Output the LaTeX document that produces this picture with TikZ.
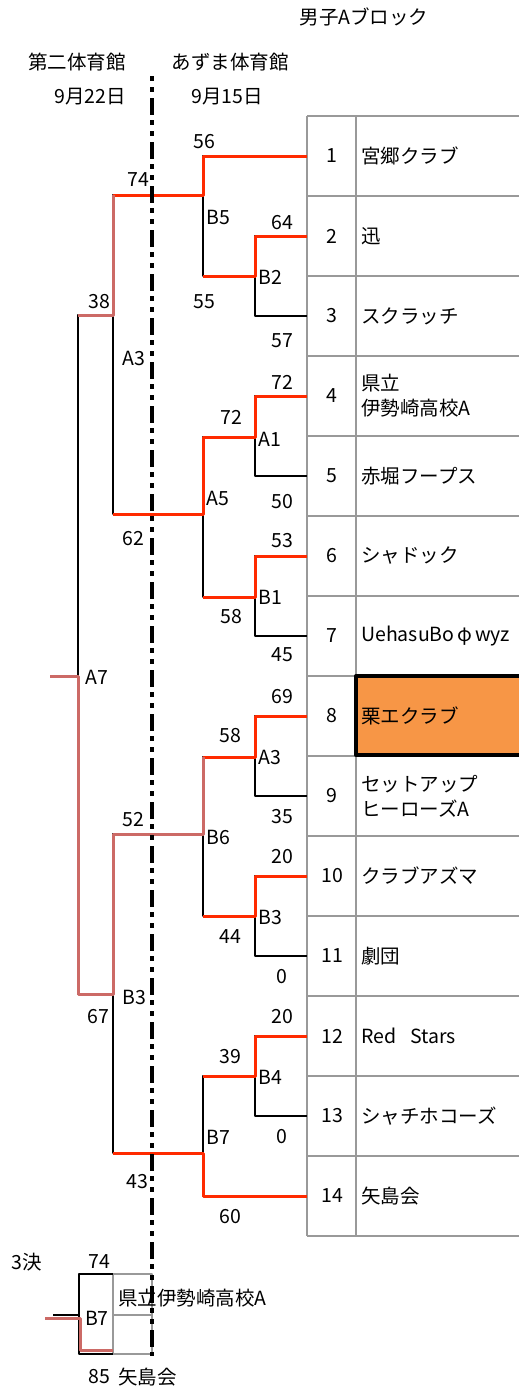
\documentclass[tikz,border=0pt]{standalone}
\usepackage{fontspec}
\setmainfont{Noto Sans CJK JP}
\definecolor{winred}{HTML}{FF2A00}
\definecolor{semipink}{HTML}{CC6A66}
\definecolor{tblgrey}{HTML}{999999}
\definecolor{hiorange}{HTML}{F79646}
\begin{document}
\begin{tikzpicture}[x=1pt, y=-1pt, line join=round, font=\fontsize{19.5}{25}\selectfont,
	win/.style={draw=winred, line width=3pt},
	semi/.style={draw=semipink, line width=3pt},
	bk/.style={draw=black, line width=1.2pt},
	grid/.style={draw=tblgrey, line width=1.5pt},
	mlab/.style={anchor=west, inner sep=1pt}]
	\useasboundingbox (0,0) rectangle (519,1392);
	% bang doi
	\foreach \k in {0,...,14} \draw[grid] (307,116+80*\k) -- (530,116+80*\k);
	\draw[grid] (307,116) -- (307,1236);
	\draw[grid] (356,116) -- (356,1236);
	\draw[fill=hiorange, line width=4pt] (356,676) rectangle (535,755);
	\foreach \i/\ten in {1/宮郷クラブ, 2/迅, 3/スクラッチ, 4/{県立\\伊勢崎高校A}, 5/赤堀フープス,
		6/シャドック, 7/{UehasuBo\hspace{3pt}φ\hspace{3pt}wyz}, 8/栗エクラブ, 9/{セットアップ\\ヒーローズA},
		10/クラブアズマ, 11/劇団, 12/{Red\hspace{14pt}Stars}, 13/シャチホコーズ, 14/矢島会} {
		\coordinate (t\i) at (307,76+80*\i);
		\node (so\i) at (332,76+80*\i) {\i};
		\node[anchor=west, align=left, inner sep=5pt] (ten\i) at (356,76+80*\i) {\ten};
	}
	% tieu de
	\node (tieude) at (364,17) {男子Aブロック};
	\node (san2) at (77,62) {第二体育館};
	\node (san1) at (230,62) {あずま体育館};
	\node (ngay2) at (90,97) {9月22日};
	\node (ngay1) at (227,97) {9月15日};
	% cac tran
	\coordinate (B2) at (255,276);  \coordinate (A1) at (255,437);
	\coordinate (B1) at (255,597);  \coordinate (A3) at (255,757);
	\coordinate (B3) at (255,916);  \coordinate (B4) at (255,1076);
	\coordinate (B5) at (203,195);  \coordinate (A5) at (203,514);
	\coordinate (B6) at (203,834);  \coordinate (B7) at (203,1153);
	\coordinate (SA3) at (113,315); \coordinate (SB3) at (113,994);
	\coordinate (A7) at (78,676);   \coordinate (W) at (50,676);
	\draw[bk] (t2) -| (B2) |- (t3);
	\draw[bk] (t4) -| (A1) |- (t5);
	\draw[bk] (t6) -| (B1) |- (t7);
	\draw[bk] (t8) -| (A3) |- (t9);
	\draw[bk] (t10) -| (B3) |- (t11);
	\draw[bk] (t12) -| (B4) |- (t13);
	\draw[bk] (t1) -| (B5) |- (B2);
	\draw[bk] (A1) -| (A5) |- (B1);
	\draw[bk] (A3) -| (B6) |- (B3);
	\draw[bk] (B4) -| (B7) |- (t14);
	\draw[bk] (B5) -| (SA3) |- (A5);
	\draw[bk] (B6) -| (SB3) |- (B7);
	\draw[bk] (SA3) -| (A7) |- (SB3);
	% duong thang
	\draw[win] (t1) -| (B5) -- (B5 -| SA3);
	\draw[win] (t2) -| (B2) -- (B2 -| B5);
	\draw[win] (t4) -| (A1) -| (A5) -- (A5 -| SA3);
	\draw[win] (t6) -| ([yshift=-4pt]B1 |- t6) -- (B1) -- (B1 -| A5);
	\draw[win] (t8) -| (A3) -- (A3 -| B6);
	\draw[win] (t10) -| (B3) -- (B3 -| B6);
	\draw[win] (t12) -| (B4) -- (B4 -| B7);
	\draw[win] (t14) -| (B7) -- (B7 -| SB3);
	\draw[semi] (SA3 |- B5) -- (SA3) -- (SA3 -| A7);
	\draw[semi] (A3 -| B6) -- (B6) -| (SB3) -- (SB3 -| A7) -- (A7) -- (W);
	% ti so
	\foreach \x/\y/\s [count=\c] in {204/142/56, 138/180/74, 282/223/64, 204/302/55, 99/302/38,
		282/341/57, 282/382/72, 231/417/72, 282/502/50, 133/539/62, 282/541/53, 231/617/58,
		282/655/45, 282/697/69, 230/736/58, 282/817/35, 133/820/52, 282/857/20, 230/937/44,
		282/977/0, 98/1017/67, 282/1017/20, 230/1057/39, 282/1137/0, 137/1182/43, 230/1217/60}
		\node (sc\c) at (\x,\y) {\s};
	\foreach \x/\y/\m [count=\c] in {205/217/B5, 257/277/B2, 121/358/A3, 257/439/A1, 205/498/A5,
		257/597/B1, 84/677/A7, 257/757/A3, 205/837/B6, 257/917/B3, 121/997/B3, 257/1077/B4, 205/1137/B7}
		\node[mlab] (m\c) at (\x,\y) {\m};
	% tranh hang 3
	\coordinate (Q) at (79,1315);
	\coordinate (Qt) at (79,1274);
	\coordinate (Qb) at (79,1354);
	\draw[grid] (113,1274) rectangle (152,1354) (113,1315) -- (152,1315);
	\draw[bk] (113,1274) -- (Qt) -- (Qb) -- (113,1354);
	\draw[bk] (53,1315) -- (Q);
	\draw[semi] (45,1318) -| (80,1350) -- (113,1350);
	\node (hang3) at (27,1262) {3決};
	\node (q74) at (99,1262) {74};
	\node (qB7) at (97,1318) {B7};
	\node[anchor=west, inner sep=3pt] (qten1) at (115,1298) {県立伊勢崎高校A};
	\node (q85) at (99,1377) {85};
	\node[anchor=west, inner sep=3pt] (qten2) at (115,1377) {矢島会};
	% vach chia san
	\draw[line width=4pt, dash pattern=on 5pt off 6pt on 5pt off 6pt on 17pt off 5pt] (152,76) -- (152,1356);
\end{tikzpicture}
\end{document}
